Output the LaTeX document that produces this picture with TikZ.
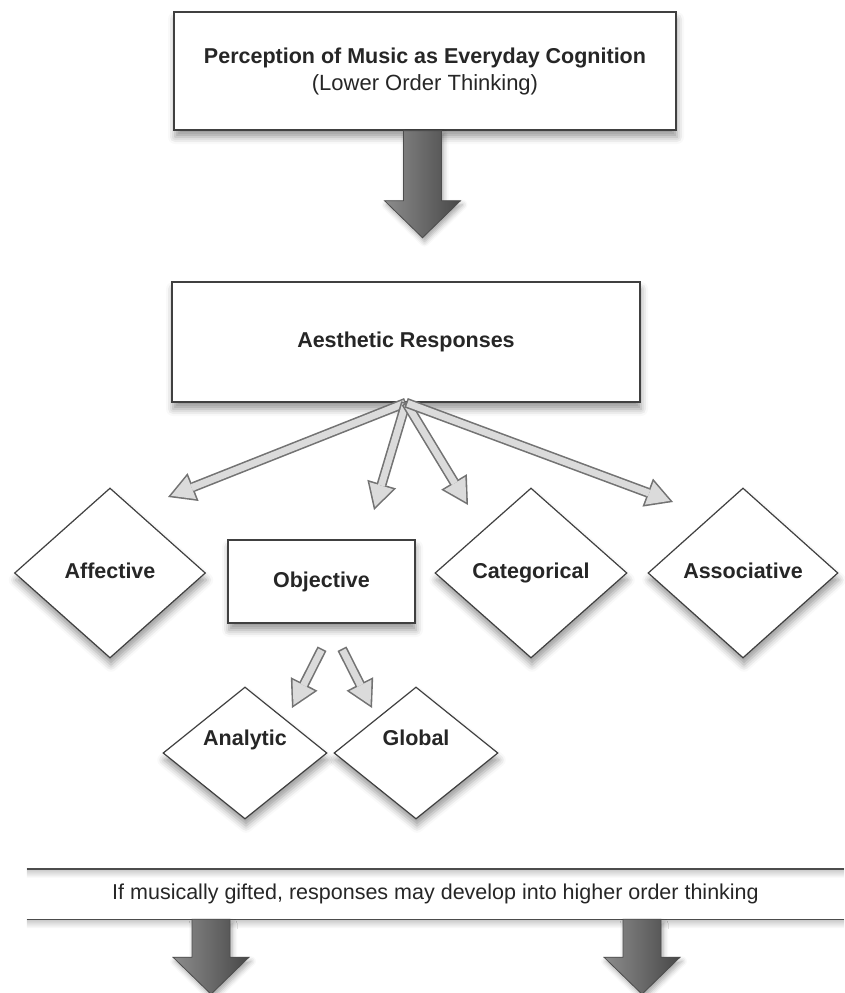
\documentclass[tikz,border=0pt]{standalone}
\usepackage{fontspec}
\setmainfont{Liberation Sans}
\usetikzlibrary{shapes.geometric,arrows.meta,shadows.blur}

\tikzset{
  box/.style={rectangle, draw=black!75, line width=1.4pt, fill=white, text=black!85,
    font=\bfseries\fontsize{21.5}{26}\selectfont,
    blur shadow={shadow xshift=1pt, shadow yshift=-7pt, shadow blur radius=7pt, shadow opacity=40}},
  gem/.style={box, diamond, inner sep=0pt, line width=1.2pt, text height=15.5pt, text depth=4.5pt},
  hollow/.style={line width=10pt, draw=black!55, -{Triangle[length=27pt,width=30pt,line width=0pt]},
    postaction={draw=black!14, line width=6.8pt, -{Triangle[length=22.1pt,width=24.6pt,line width=0pt]},
      shorten >=3.3pt, shorten <=1.6pt}},
  fat/.style={left color=black!45, middle color=black!28, right color=black!72, draw=black!70, line width=0.8pt,
    blur shadow={shadow xshift=2pt, shadow yshift=-4pt, shadow blur radius=5pt, shadow opacity=35}},
  fade/.style={top color=black!22, bottom color=white, draw=none}
}

\begin{document}
\begin{tikzpicture}[x=1pt,y=-1pt]
\useasboundingbox (0,0) rectangle (844,993);

% boxes and diamonds
\node[box, minimum width=502pt, minimum height=118pt, align=center] (top) at (425,71)
  {Perception of Music as Everyday Cognition\\[1pt]\mdseries\fontsize{22}{26}\selectfont(Lower Order Thinking)};
\node[box, minimum width=468pt, minimum height=120pt] (aes) at (406,342) {Aesthetic Responses};
\node[gem, minimum width=191pt, minimum height=170pt] (aff) at (110,573) {Affective};
\node[box, minimum width=187pt, minimum height=83pt, text height=15.5pt, text depth=4.5pt] (obj) at (321.5,581.5) {Objective};
\node[gem, minimum width=192pt, minimum height=170pt] (cat) at (531,573) {Categorical};
\node[gem, minimum width=190pt, minimum height=170pt] (ass) at (743,573) {Associative};
\node[gem, minimum width=164pt, minimum height=132pt, text depth=30pt] (ana) at (245,753) {Analytic};
\node[gem, minimum width=164pt, minimum height=132pt, text depth=30pt] (glo) at (416,753) {Global};

% band at the bottom
\node[minimum width=817pt, minimum height=50pt, inner sep=0pt, text=black!85,
  font=\fontsize{21.5}{26}\selectfont] (gift) at (435.5,894)
  {If musically gifted, responses may develop into higher order thinking};
\shade[fade] (gift.north west) rectangle ([yshift=-9pt]gift.north east);
\shade[fade] (gift.south west) rectangle ([yshift=-9pt]gift.south east);
\draw[line width=1.4pt, black!70] (gift.north west) -- (gift.north east);
\draw[line width=1.4pt, black!70] (gift.south west) -- (gift.south east);

% big arrows
\path[fat] ([xshift=-21.5pt]top.south) -- ++(0,70) -- ++(-19,0) -- ++(38,37) -- ++(38,-37) -- ++(-19,0) -- ++(0,-70) -- cycle;
\path[fat] ([xshift=-243.5pt]gift.south) -- ++(0,38) -- ++(-19,0) -- ++(38,37) -- ++(38,-37) -- ++(-19,0) -- ++(0,-38) -- cycle;
\path[fat] ([xshift=187.5pt]gift.south) -- ++(0,38) -- ++(-19,0) -- ++(38,37) -- ++(38,-37) -- ++(-19,0) -- ++(0,-38) -- cycle;

% hollow arrows
\coordinate (toaff) at (168,497);
\coordinate (toobj) at (374,510);
\coordinate (tocat) at (468,505);
\coordinate (toass) at (673,502);
\coordinate (toana) at (292,708);
\coordinate (toglo) at (372,708);
\draw[hollow] (aes.south) -- (toaff);
\draw[hollow] (aes.south) -- (toobj);
\draw[hollow] (aes.south) -- (tocat);
\draw[hollow] (aes.south) -- (toass);
\draw[hollow] ([xshift=0.5pt,yshift=-25pt]obj.south) -- (toana);
\draw[hollow] ([xshift=20.5pt,yshift=-25pt]obj.south) -- (toglo);
\end{tikzpicture}
\end{document}
